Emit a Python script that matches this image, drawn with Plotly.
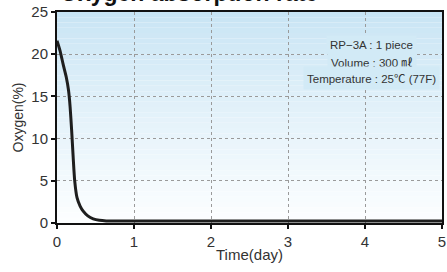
import plotly.graph_objects as go

# Data
time_day = [0, 0.04, 0.08, 0.12, 0.15, 0.17, 0.19, 0.21, 0.23, 0.26, 0.30, 0.34, 0.40, 0.47, 0.55, 0.64, 0.80, 1, 2, 3, 4, 5]
oxygen_pct = [21.6, 20.4, 18.8, 17.3, 15.7, 13.8, 11.0, 7.8, 5.0, 3.0, 2.0, 1.4, 0.85, 0.5, 0.32, 0.25, 0.25, 0.25, 0.25, 0.25, 0.25, 0.25]
x_ticks = [0, 1, 2, 3, 4, 5]
y_ticks = [0, 5, 10, 15, 20, 25]
title_text = "Oxygen absorption rate"
cjk = "<span style=\"font-family:'Noto Sans CJK KR'\">%s</span>"
info_lines = [
    "RP−3A : 1 piece",
    "Volume : 300 " + cjk % "㎖",
    "Temperature : 25" + cjk % "℃" + " (77F)",
]

fig = go.Figure()
fig.add_trace(go.Scatter(
    x=time_day, y=oxygen_pct, mode="lines",
    line=dict(color="#1e1e1e", width=3, shape="spline", smoothing=0.6),
    hoverinfo="skip", showlegend=False,
))

# vertical gradient background (light blue -> white)
top = (200, 228, 244)
bot = (252, 254, 255)
n = 40
shapes = []
for i in range(n):
    t = i / (n - 1)
    c = tuple(int(round(top[k] + (bot[k] - top[k]) * (t ** 0.9))) for k in range(3))
    shapes.append(dict(
        type="rect", xref="x domain", yref="y domain",
        x0=0, x1=1, y0=1 - (i + 1) / n, y1=1 - i / n,
        fillcolor="rgb(%d,%d,%d)" % c, line=dict(width=0), layer="below",
    ))

fig.update_layout(
    width=447, height=272,
    margin=dict(l=57, r=5, t=12, b=49, autoexpand=False),
    paper_bgcolor="white", plot_bgcolor="white",
    shapes=shapes,
    font=dict(family="Liberation Sans, Arial, sans-serif", color="#333333"),
    showlegend=False,
)
fig.update_xaxes(
    range=[0, 5], tickvals=x_ticks, ticktext=[str(v) for v in x_ticks],
    automargin=False,
    showline=True, linecolor="#111111", linewidth=2, mirror=True,
    ticks="outside", ticklen=4, tickwidth=1.5, tickcolor="#111111",
    ticklabelstandoff=0,
    tickfont=dict(size=15, color="#333333"),
    showgrid=True, gridcolor="#9a9a9a", gridwidth=1, griddash="dot",
    zeroline=False,
    title=dict(text="Time(day)", font=dict(size=15, color="#333333"), standoff=0),
)
fig.update_yaxes(
    range=[0, 25], tickvals=y_ticks, ticktext=[str(v) for v in y_ticks],
    automargin=False,
    showline=True, linecolor="#111111", linewidth=2, mirror=True,
    ticks="outside", ticklen=4, tickwidth=1.5, tickcolor="#111111",
    tickfont=dict(size=15, color="#333333"),
    showgrid=True, gridcolor="#9a9a9a", gridwidth=1, griddash="dot",
    zeroline=False,
    title=dict(text="Oxygen(%)", font=dict(size=14, color="#333333"), standoff=4),
)

fig.add_annotation(
    text="<b>" + title_text + "</b>", xref="paper", yref="paper", x=0.0, y=1.0,
    xanchor="left", yanchor="bottom", yshift=4, xshift=1,
    showarrow=False, font=dict(size=23, color="#111111", family="Liberation Sans, Arial, sans-serif"),
)
line_y = [0.844, 0.763, 0.687]
for txt, yy in zip(info_lines, line_y):
    fig.add_annotation(
        text=txt, xref="paper", yref="paper", x=0.817, y=yy,
        xanchor="center", yanchor="middle", align="center",
        showarrow=False, font=dict(size=11.5, color="#333333"),
        bgcolor="rgb(210,234,246)", borderpad=3,
    )

fig.write_html(
    "out.html",
    config={"displayModeBar": False},
    post_script="document.body.style.margin='0';document.body.style.overflow='hidden';",
)
